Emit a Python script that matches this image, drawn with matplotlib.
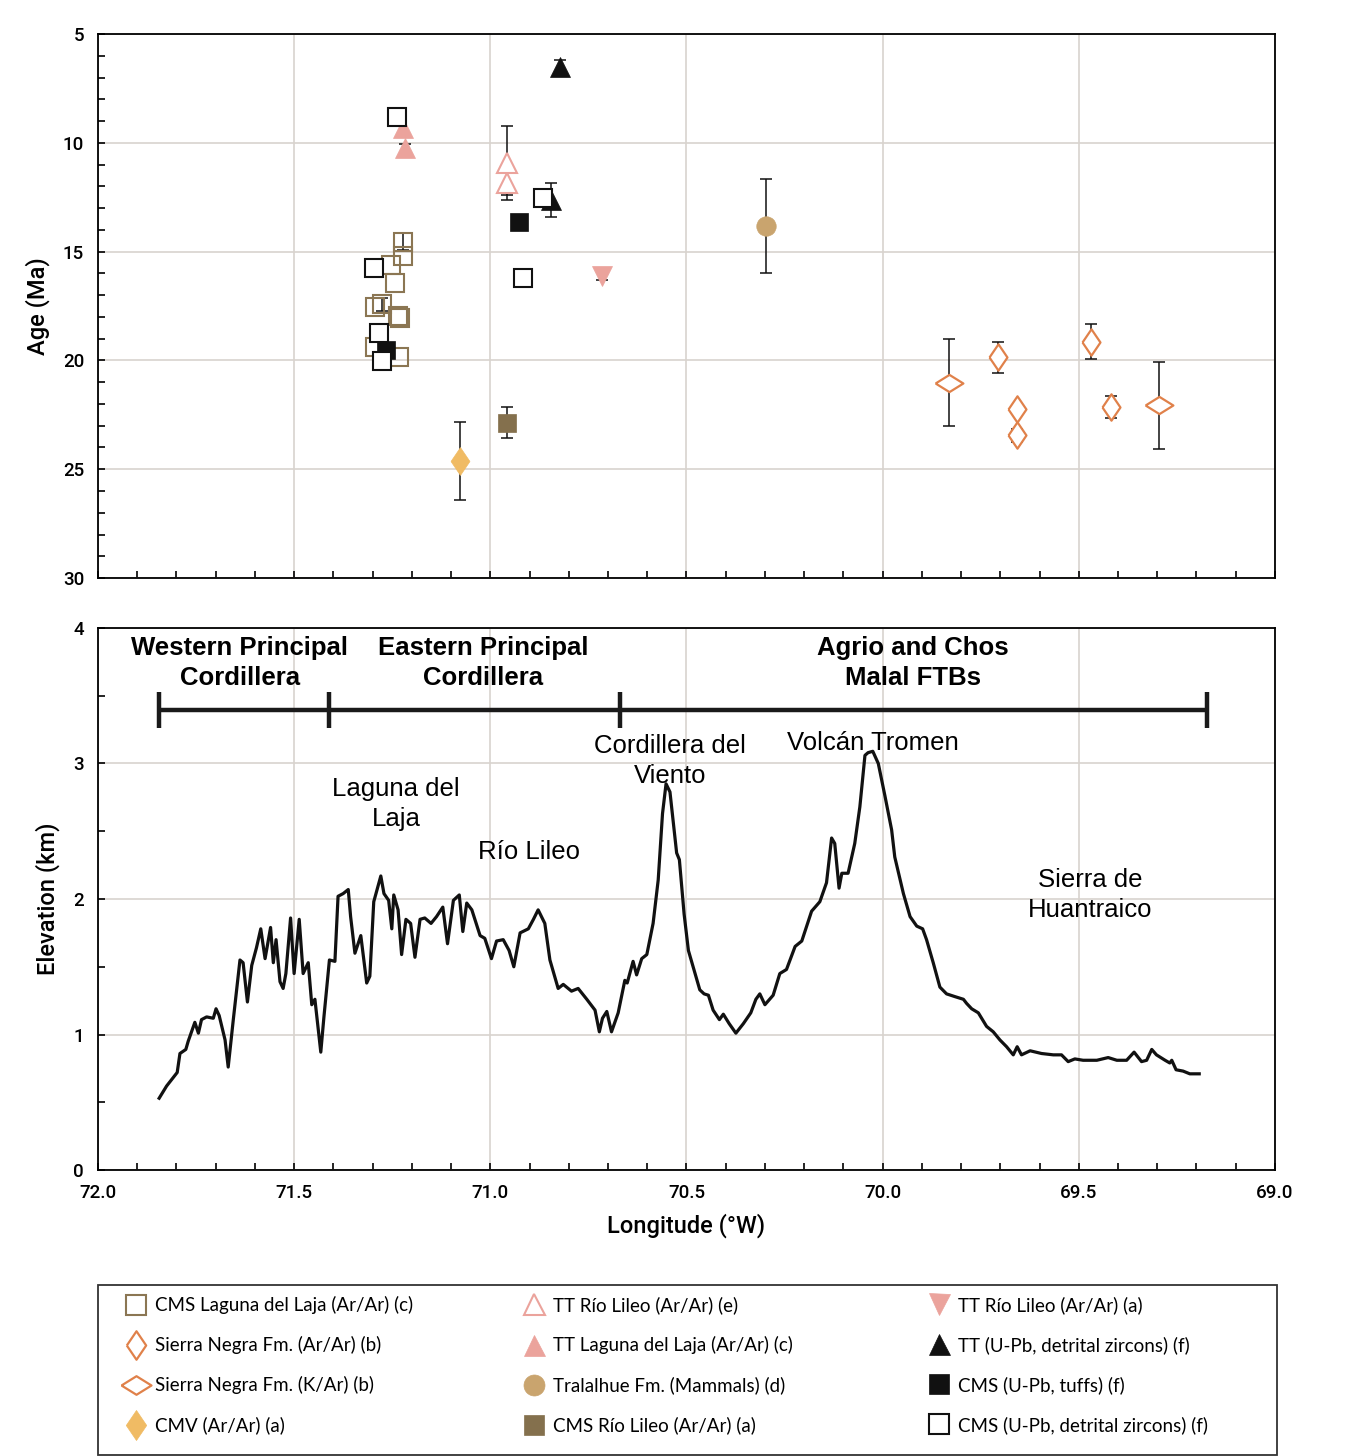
import numpy as np
import matplotlib
matplotlib.use("Agg")
import matplotlib.pyplot as plt
from matplotlib.patches import Rectangle
from matplotlib.ticker import MultipleLocator, FormatStrFormatter

# ---- age data (longitude in deg W, age in Ma, 1-sigma error) ----
cms_laja_lon = [71.223, 71.223, 71.254, 71.242, 71.293, 71.275, 71.235, 71.230, 71.294, 71.232]
cms_laja_age = [14.54, 15.20, 15.62, 16.43, 17.53, 17.41, 17.96, 18.04, 19.40, 19.83]
cms_laja_err = [0.4, 0, 0, 0, 0, 0.3, 0, 0, 0, 0]

sn_arar_lon = [69.705, 69.657, 69.657, 69.470, 69.418]
sn_arar_age = [19.86, 22.25, 23.43, 19.14, 22.13]
sn_arar_err = [0.7, 0, 0.3, 0.8, 0.5]

sn_kar_lon = [69.831, 69.295]
sn_kar_age = [21.02, 22.05]
sn_kar_err = [2.0, 2.0]

cmv_lon = [71.077]
cmv_age = [24.62]
cmv_err = [1.8]

tt_lileo_e_lon = [70.958, 70.958]
tt_lileo_e_age = [10.91, 11.83]
tt_lileo_e_err = [1.7, 0.55]

tt_laja_lon = [71.222, 71.217]
tt_laja_age = [9.33, 10.25]
tt_laja_err = [0, 0.2]

tralalhue_lon = [70.297]
tralalhue_age = [13.82]
tralalhue_err = [2.16]

cms_lileo_lon = [70.958]
cms_lileo_age = [22.86]
cms_lileo_err = [0.72]

tt_lileo_a_lon = [70.714]
tt_lileo_a_age = [16.12]
tt_lileo_a_err = [0.2]

tt_zircon_lon = [70.822, 70.846]
tt_zircon_age = [6.50, 12.63]
tt_zircon_err = [0.3, 0.8]

cms_tuff_lon = [71.266, 70.926]
cms_tuff_age = [19.52, 13.65]
cms_tuff_err = [0, 0]

cms_zircon_lon = [71.237, 71.297, 71.284, 71.275, 70.865, 70.916]
cms_zircon_age = [8.83, 15.74, 18.73, 20.01, 12.52, 16.23]
cms_zircon_err = [0, 0, 0, 0, 0, 0]

# ---- topographic profile (longitude deg W, elevation km) ----
profile_lon = [
    71.844, 71.825, 71.798, 71.791, 71.776, 71.770, 71.753, 71.744, 71.736, 71.723,
    71.706, 71.699, 71.691, 71.676, 71.668, 71.655, 71.638, 71.630, 71.619, 71.608,
    71.596, 71.585, 71.574, 71.560, 71.553, 71.546, 71.536, 71.528, 71.521, 71.509,
    71.500, 71.487, 71.477, 71.464, 71.455, 71.447, 71.432, 71.424, 71.410, 71.396,
    71.388, 71.375, 71.362, 71.356, 71.345, 71.330, 71.315, 71.307, 71.297, 71.279,
    71.271, 71.259, 71.251, 71.246, 71.235, 71.226, 71.215, 71.203, 71.192, 71.179,
    71.167, 71.151, 71.137, 71.121, 71.109, 71.094, 71.079, 71.070, 71.060, 71.047,
    71.026, 71.014, 70.997, 70.984, 70.967, 70.952, 70.940, 70.924, 70.903, 70.890,
    70.878, 70.861, 70.848, 70.838, 70.827, 70.814, 70.793, 70.776, 70.754, 70.733,
    70.722, 70.714, 70.703, 70.691, 70.674, 70.657, 70.651, 70.636, 70.627, 70.614,
    70.601, 70.585, 70.572, 70.561, 70.552, 70.542, 70.534, 70.525, 70.518, 70.506,
    70.495, 70.478, 70.466, 70.455, 70.444, 70.432, 70.416, 70.406, 70.391, 70.374,
    70.355, 70.336, 70.323, 70.313, 70.300, 70.279, 70.262, 70.245, 70.223, 70.206,
    70.181, 70.160, 70.143, 70.130, 70.122, 70.111, 70.104, 70.088, 70.071, 70.058,
    70.045, 70.037, 70.025, 70.011, 69.994, 69.977, 69.969, 69.947, 69.930, 69.913,
    69.898, 69.888, 69.871, 69.854, 69.837, 69.816, 69.794, 69.786, 69.773, 69.756,
    69.735, 69.718, 69.701, 69.684, 69.667, 69.657, 69.646, 69.624, 69.595, 69.565,
    69.544, 69.527, 69.510, 69.489, 69.454, 69.425, 69.403, 69.378, 69.359, 69.340,
    69.327, 69.314, 69.302, 69.280, 69.268, 69.263, 69.252, 69.234, 69.217, 69.193,
]
profile_elev = [
    0.53, 0.62, 0.72, 0.86, 0.89, 0.95, 1.09, 1.01, 1.11, 1.13,
    1.12, 1.19, 1.14, 0.96, 0.76, 1.11, 1.55, 1.53, 1.24, 1.51,
    1.64, 1.78, 1.56, 1.79, 1.53, 1.70, 1.39, 1.34, 1.45, 1.86,
    1.45, 1.85, 1.45, 1.53, 1.22, 1.26, 0.87, 1.13, 1.55, 1.54,
    2.02, 2.04, 2.07, 1.87, 1.60, 1.73, 1.38, 1.43, 1.98, 2.17,
    2.04, 1.99, 1.78, 2.03, 1.92, 1.59, 1.85, 1.82, 1.57, 1.85,
    1.86, 1.82, 1.87, 1.94, 1.67, 1.99, 2.03, 1.76, 1.97, 1.92,
    1.73, 1.71, 1.56, 1.69, 1.70, 1.62, 1.50, 1.75, 1.78, 1.85,
    1.92, 1.82, 1.55, 1.45, 1.34, 1.37, 1.32, 1.34, 1.26, 1.18,
    1.02, 1.12, 1.17, 1.02, 1.16, 1.40, 1.38, 1.54, 1.44, 1.56,
    1.59, 1.82, 2.14, 2.63, 2.85, 2.79, 2.58, 2.34, 2.29, 1.89,
    1.62, 1.45, 1.33, 1.30, 1.29, 1.18, 1.11, 1.15, 1.08, 1.01,
    1.08, 1.16, 1.26, 1.30, 1.22, 1.29, 1.45, 1.48, 1.65, 1.69,
    1.91, 1.98, 2.12, 2.45, 2.41, 2.08, 2.19, 2.19, 2.41, 2.68,
    3.06, 3.08, 3.09, 3.00, 2.76, 2.51, 2.31, 2.04, 1.87, 1.80,
    1.78, 1.70, 1.53, 1.35, 1.30, 1.28, 1.26, 1.23, 1.19, 1.16,
    1.06, 1.02, 0.96, 0.91, 0.85, 0.91, 0.85, 0.88, 0.86, 0.85,
    0.85, 0.80, 0.82, 0.81, 0.81, 0.83, 0.81, 0.81, 0.87, 0.80,
    0.81, 0.89, 0.85, 0.81, 0.79, 0.81, 0.74, 0.73, 0.71, 0.71,
]

# morphostructural units: boundaries and names
unit_bounds = [71.845, 71.411, 70.670, 69.173]
unit_names = ["Western Principal\nCordillera", "Eastern Principal\nCordillera",
              "Agrio and Chos\nMalal FTBs"]
unit_label_lon = [71.638, 71.019, 69.923]

place_names = ["Laguna del\nLaja", "Río Lileo", "Cordillera del\nViento",
               "Volcán Tromen", "Sierra de\nHuantraico"]
place_lon = [71.240, 70.901, 70.542, 70.025, 69.472]
place_elev = [2.70, 2.35, 3.02, 3.15, 2.03]

PINK = "#eba39c"
BROWN = "#8b7653"
ORANGE = "#e0814a"

tall_diamond = [(-0.68, 0), (0, 1), (0.68, 0), (0, -1), (-0.68, 0)]
wide_diamond = [(-1, 0), (0, 0.62), (1, 0), (0, -0.62), (-1, 0)]

series = [
    ("CMS Laguna del Laja (Ar/Ar) (c)", cms_laja_lon, cms_laja_age, cms_laja_err,
     dict(marker="s", ms=13, mfc="none", mec=BROWN, mew=1.5)),
    ("Sierra Negra Fm. (Ar/Ar) (b)", sn_arar_lon, sn_arar_age, sn_arar_err,
     dict(marker=tall_diamond, ms=19, mfc="white", mec=ORANGE, mew=1.6)),
    ("Sierra Negra Fm. (K/Ar) (b)", sn_kar_lon, sn_kar_age, sn_kar_err,
     dict(marker=wide_diamond, ms=20, mfc="white", mec=ORANGE, mew=1.6)),
    ("CMV (Ar/Ar) (a)", cmv_lon, cmv_age, cmv_err,
     dict(marker=tall_diamond, ms=20, mfc="#f0bb64", mec="#f0bb64", mew=0.5)),
    ("TT Río Lileo (Ar/Ar) (e)", tt_lileo_e_lon, tt_lileo_e_age, tt_lileo_e_err,
     dict(marker="^", ms=14, mfc="white", mec=PINK, mew=1.5)),
    ("TT Laguna del Laja (Ar/Ar) (c)", tt_laja_lon, tt_laja_age, tt_laja_err,
     dict(marker="^", ms=14, mfc=PINK, mec=PINK, mew=0.5)),
    ("Tralalhue Fm. (Mammals) (d)", tralalhue_lon, tralalhue_age, tralalhue_err,
     dict(marker="o", ms=14, mfc="#c9a46e", mec="#c9a46e", mew=0.5)),
    ("CMS Río Lileo (Ar/Ar) (a)", cms_lileo_lon, cms_lileo_age, cms_lileo_err,
     dict(marker="s", ms=13, mfc="#84704d", mec="#84704d", mew=0.5)),
    ("TT Río Lileo (Ar/Ar) (a)", tt_lileo_a_lon, tt_lileo_a_age, tt_lileo_a_err,
     dict(marker="v", ms=14, mfc=PINK, mec=PINK, mew=0.5)),
    ("TT (U-Pb, detrital zircons) (f)", tt_zircon_lon, tt_zircon_age, tt_zircon_err,
     dict(marker="^", ms=14, mfc="#111111", mec="#111111", mew=0.5)),
    ("CMS (U-Pb, tuffs) (f)", cms_tuff_lon, cms_tuff_age, cms_tuff_err,
     dict(marker="s", ms=13, mfc="#111111", mec="#111111", mew=0.5)),
    ("CMS (U-Pb, detrital zircons) (f)", cms_zircon_lon, cms_zircon_age, cms_zircon_err,
     dict(marker="s", ms=13, mfc="white", mec="#111111", mew=1.5)),
]

TICK_FONT = "Roboto"
LABEL_FONT = "Roboto"
ANNOT_FONT = "Liberation Sans"
GRID = "#d8d3ce"

W, H = 1351, 1456
fig = plt.figure(figsize=(W / 100, H / 100), dpi=100)
ax1 = fig.add_axes([0.0725, 0.6030, 0.8712, 0.3736])
ax2 = fig.add_axes([0.0725, 0.1964, 0.8712, 0.3723])


def style_axis(ax):
    for s in ax.spines.values():
        s.set_linewidth(1.3)
        s.set_color("black")
    ax.xaxis.set_major_locator(MultipleLocator(0.5))
    ax.xaxis.set_minor_locator(MultipleLocator(0.1))
    ax.tick_params(which="both", direction="in", top=False, right=False,
                   width=1.2, labelsize=13.5, pad=10)
    ax.tick_params(which="major", length=5)
    ax.tick_params(which="minor", length=5)
    ax.grid(True, which="major", color=GRID, linewidth=1.2)
    ax.set_axisbelow(True)
    for lab in ax.get_xticklabels() + ax.get_yticklabels():
        lab.set_fontfamily(TICK_FONT)
        lab.set_fontweight("medium")


# ---- top panel: ages ----
handles = []
for label, lon, age, err, style in series:
    pts = [(x, y, e) for x, y, e in zip(lon, age, err) if e > 0]
    if pts:
        ex, ey, ee = zip(*pts)
        ax1.errorbar(ex, ey, yerr=ee, fmt="none", ecolor="#111111",
                     elinewidth=1.1, capsize=4.5, capthick=1.1, zorder=2)
    h, = ax1.plot(lon, age, linestyle="none", label=label, zorder=3, **style)
    handles.append(h)

ax1.set_xlim(72, 69)
ax1.set_ylim(30, 5)
ax1.yaxis.set_major_locator(MultipleLocator(5))
ax1.yaxis.set_minor_locator(MultipleLocator(1))
style_axis(ax1)
ax1.tick_params(labelbottom=False)
ax1.set_ylabel("Age (Ma)", fontsize=17, fontfamily=LABEL_FONT, fontweight="medium")
ax1.yaxis.set_label_coords(-0.0408, 0.5)

# ---- bottom panel: topographic profile ----
ax2.plot(profile_lon, profile_elev, color="#111111", linewidth=2.3, zorder=3)

bracket_elev = 3.395
ax2.plot([unit_bounds[0], unit_bounds[-1]], [bracket_elev, bracket_elev],
         color="#1a1a1a", linewidth=3.2, solid_capstyle="butt", zorder=3)
ax2.vlines(unit_bounds, bracket_elev - 0.13, bracket_elev + 0.13,
           color="#1a1a1a", linewidth=3.2, zorder=3)
for name, lon in zip(unit_names, unit_label_lon):
    ax2.text(lon, 3.74, name, ha="center", va="center", fontsize=18.5,
             fontweight="bold", fontfamily=ANNOT_FONT, linespacing=1.3, zorder=4)
for name, lon, el in zip(place_names, place_lon, place_elev):
    ax2.text(lon, el, name, ha="center", va="center", fontsize=18.5,
             fontfamily=ANNOT_FONT, linespacing=1.3, zorder=4)

ax2.set_xlim(72, 69)
ax2.set_ylim(0, 4)
ax2.yaxis.set_major_locator(MultipleLocator(1))
ax2.yaxis.set_minor_locator(MultipleLocator(0.5))
ax2.xaxis.set_major_formatter(FormatStrFormatter("%.1f"))
style_axis(ax2)
ax2.set_ylabel("Elevation (km)", fontsize=17, fontfamily=LABEL_FONT, fontweight="medium")
ax2.yaxis.set_label_coords(-0.0323, 0.5)
ax2.set_xlabel("Longitude (°W)", fontsize=17, fontfamily=LABEL_FONT,
               fontweight="medium", labelpad=8)

# ---- legend: framed box with three columns of four entries ----
fig.add_artist(Rectangle((98 / W, 1 - 1455 / H), 1179 / W, 170 / H,
                         transform=fig.transFigure, fill=False,
                         edgecolor="#333333", linewidth=1.3))
col_left_px = [126, 524, 929]
for i, x_px in enumerate(col_left_px):
    col = handles[i * 4:(i + 1) * 4]
    leg = fig.legend(col, [h.get_label() for h in col], loc="upper left",
                     bbox_to_anchor=(x_px / W, 1 - 1296 / H), frameon=False,
                     prop={"family": "Lato", "size": 13.5}, labelspacing=1.18,
                     handletextpad=0.5, handlelength=1.05, borderpad=0,
                     borderaxespad=0, numpoints=1, markerscale=1.08)

fig.savefig("out.png", dpi=100)
